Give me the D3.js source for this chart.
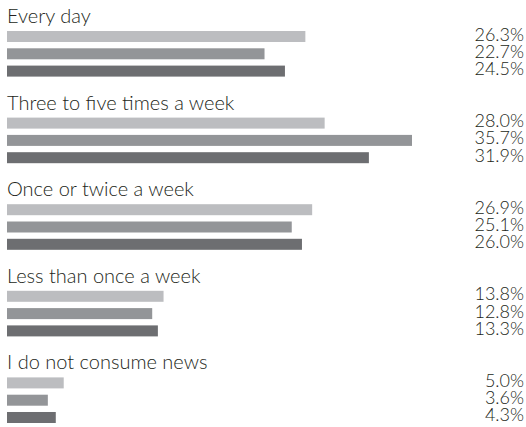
<!DOCTYPE html>
<html>
<head>
<meta charset="utf-8">
<script src="https://cdn.jsdelivr.net/npm/d3@7"></script>
<style>
  body { margin: 0; background: #fff; }
  svg { display: block; }
</style>
</head>
<body>
<div class="chart"></div>
<script>
// news consumption frequency, three series per category
let categories = ['Every day', 'Three to five times a week', 'Once or twice a week', 'Less than once a week', 'I do not consume news'];
let seriesNames = ['a', 'b', 'c'];
let seriesA = [26.3, 28.0, 26.9, 13.8, 5.0];
let seriesB = [22.7, 35.7, 25.1, 12.8, 3.6];
let seriesC = [24.5, 31.9, 26.0, 13.3, 4.3];
let colors = ['#bcbdc0', '#939598', '#6d6e71'];

let width = 526;
let height = 427;

let svg = d3.select('.chart')
  .append('svg')
  .attr('width', width)
  .attr('height', height);

let values = [seriesA, seriesB, seriesC];

// scales
let xScale = d3.scaleLinear()
  .domain([0, 35.7])
  .range([7, 412]);

let groupScale = d3.scaleBand()
  .domain(categories)
  .range([0, 5 * 86.6]);

let barScale = d3.scaleBand()
  .domain(seriesNames)
  .range([31, 76.6])
  .paddingInner(0.364);

let groups = svg.selectAll('.group')
  .data(categories)
  .enter().append('g')
  .attr('class', 'group')
  .attr('transform', function(d) { return 'translate(0,' + groupScale(d) + ')'; });

groups.append('text')
  .attr('x', 7)
  .attr('y', 23)
  .attr('font-family', 'Lato, sans-serif')
  .attr('font-weight', 300)
  .attr('font-size', 20)
  .attr('fill', '#231f20')
  .text(function(d) { return d; });

groups.each(function(cat, i) {
  let g = d3.select(this);
  let rows = seriesNames.map(function(s, j) {
    return { s: s, v: values[j][i], c: colors[j] };
  });

  g.selectAll('rect')
    .data(rows)
    .enter().append('rect')
    .attr('x', xScale(0))
    .attr('y', function(d) { return barScale(d.s); })
    .attr('width', function(d) { return xScale(d.v) - xScale(0); })
    .attr('height', barScale.bandwidth())
    .attr('fill', function(d) { return d.c; });

  g.selectAll('.val')
    .data(rows)
    .enter().append('text')
    .attr('class', 'val')
    .attr('x', 524)
    .attr('y', function(d) { return barScale(d.s) + barScale.bandwidth() - 1.5; })
    .attr('text-anchor', 'end')
    .attr('font-family', 'Lato, sans-serif')
    .attr('font-weight', 300)
    .attr('font-size', 18)
    .attr('fill', '#231f20')
    .text(function(d) { return d.v.toFixed(1) + '%'; });
});
</script>
</body>
</html>
